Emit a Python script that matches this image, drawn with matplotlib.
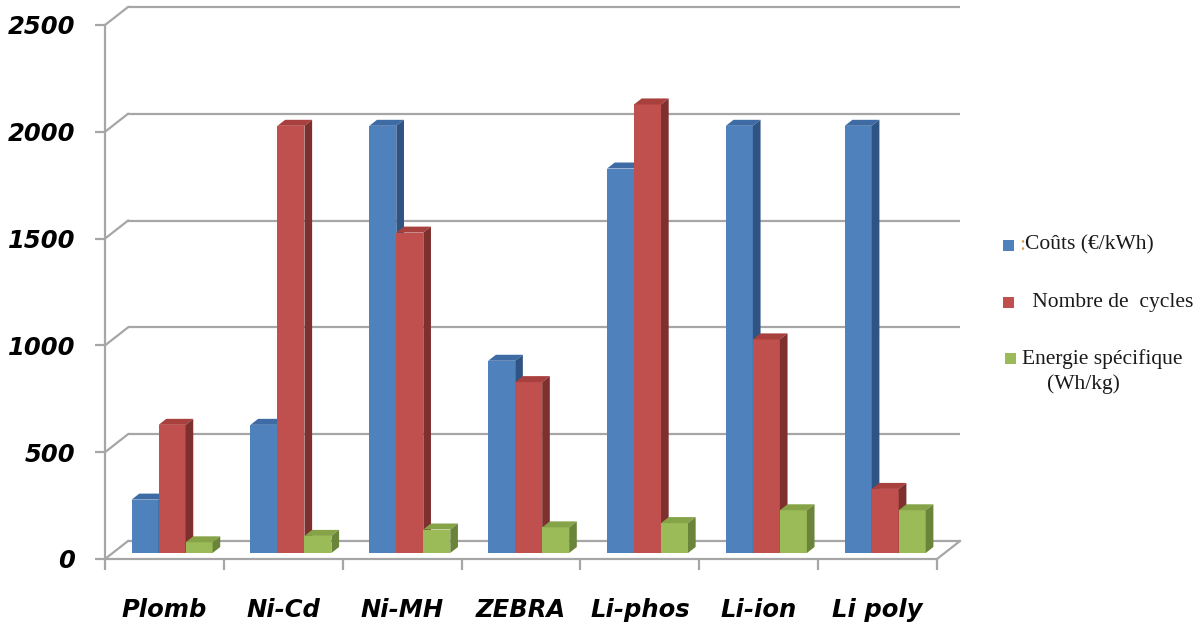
import matplotlib
matplotlib.use("Agg")
import matplotlib.pyplot as plt
from matplotlib.patches import Polygon, Rectangle
import numpy as np

# ---- data ----
categories = ["Plomb", "Ni-Cd", "Ni-MH", "ZEBRA", "Li-phos", "Li-ion", "Li poly"]
couts = [250, 600, 2000, 900, 1800, 2000, 2000]          # Coûts (€/kWh)
cycles = [600, 2000, 1500, 800, 2100, 1000, 300]         # Nombre de cycles
energie = [50, 80, 110, 120, 140, 200, 200]              # Energie spécifique (Wh/kg)
y_ticks = [0, 500, 1000, 1500, 2000, 2500]
legend_labels = ["Coûts (€/kWh)", " Nombre de  cycles", "Energie spécifique"]

series = [couts, cycles, energie]
front_cols = ["#4F81BD", "#C0504D", "#9BBB59"]
top_cols = ["#3E6BA3", "#A8403D", "#86A447"]
side_cols = ["#2F5383", "#7E302E", "#6A8439"]

W, H = 1202, 626
fig = plt.figure(figsize=(W / 100, H / 100), dpi=100)
fig.patch.set_facecolor("white")

# front plane of plot area (pixels): x 105..937, y 25..559
ax = fig.add_axes([105 / W, (H - 559) / H, (937 - 105) / W, (559 - 25) / H])
ax.set_xlim(0, len(categories))
ax.set_ylim(0, 2500)
for s in ax.spines.values():
    s.set_visible(False)
ax.set_facecolor("none")

# depth offsets (data units)
DX = 23 * len(categories) / (937 - 105)
DY = 18 * 2500 / (559 - 25)

gcol = "#A6A6A6"
glw = 1.6
n = len(categories)
for v in y_ticks:
    ax.plot([DX, n + DX], [v + DY, v + DY], color=gcol, lw=glw, clip_on=False, zorder=1,
            solid_capstyle="butt")
    ax.plot([0, DX], [v, v + DY], color=gcol, lw=glw, clip_on=False, zorder=1)
# floor
ax.plot([0, n], [0, 0], color=gcol, lw=glw, clip_on=False, zorder=1)
ax.plot([n, n + DX], [0, DY], color=gcol, lw=glw, clip_on=False, zorder=1)
# front vertical axis
ax.plot([0, 0], [0, 2500], color=gcol, lw=glw, clip_on=False, zorder=1)

# ticks
lab_kw = dict(fontsize=17.5, fontweight="bold", fontstyle="italic", family="DejaVu Sans")
ax.set_yticks(y_ticks)
ax.set_yticklabels([str(v) for v in y_ticks], **lab_kw)
ax.tick_params(axis="y", length=7.2, width=1.6, color=gcol, pad=14.4)
ax.set_xticks(np.arange(n + 1))
ax.set_xticklabels([])
ax.tick_params(axis="x", length=8, width=1.6, color=gcol)
ax.set_xticks(np.arange(n) + 0.5, minor=True)
ax.set_xticklabels(categories, minor=True, **lab_kw)
ax.tick_params(axis="x", which="minor", length=0, pad=28)

# bars
bw = 0.227
d0x, d0y = DX / 3, DY / 3
ddx, ddy = DX / 3, DY / 3
for i in range(n):
    for k, vals in enumerate(series):
        x0 = i + 0.5 + (k - 1) * bw - bw / 2 + d0x
        h = vals[i]
        z = 3 + i * 3 + k
        ax.bar(x0, h, width=bw, bottom=d0y, align="edge", color=front_cols[k],
               linewidth=0, zorder=z, clip_on=False)
        top = d0y + h
        ax.add_patch(Polygon([[x0, top], [x0 + bw, top], [x0 + bw + ddx, top + ddy],
                              [x0 + ddx, top + ddy]], closed=True, facecolor=top_cols[k],
                             linewidth=0, zorder=z, clip_on=False))
        ax.add_patch(Polygon([[x0 + bw, d0y], [x0 + bw + ddx, d0y + ddy],
                              [x0 + bw + ddx, top + ddy], [x0 + bw, top]], closed=True,
                             facecolor=side_cols[k], linewidth=0, zorder=z, clip_on=False))

# legend
def fy(py):
    return (H - py) / H

leg_kw = dict(fontsize=15.5, family="Liberation Serif", va="center", ha="left",
              color="#1a1a1a")
sq = [(1003, 240), (1003, 297), (1005, 353)]
txt_pos = [(1025, 245), (1027, 303), (1022, 359)]
for k in range(3):
    sx, sy = sq[k]
    fig.patches.append(Rectangle((sx / W, fy(sy + 11)), 11 / W, 11 / H,
                                 transform=fig.transFigure, facecolor=front_cols[k],
                                 edgecolor="none"))
    tx, ty = txt_pos[k]
    fig.text(tx / W, fy(ty), legend_labels[k], **leg_kw)
fig.text(1019 / W, fy(245), ":", fontsize=15.5, family="Liberation Serif", va="center",
         ha="left", color="#E0A050")
fig.text(1047 / W, fy(384), "(Wh/kg)", **leg_kw)

fig.savefig("out.png", dpi=100, facecolor="white")
